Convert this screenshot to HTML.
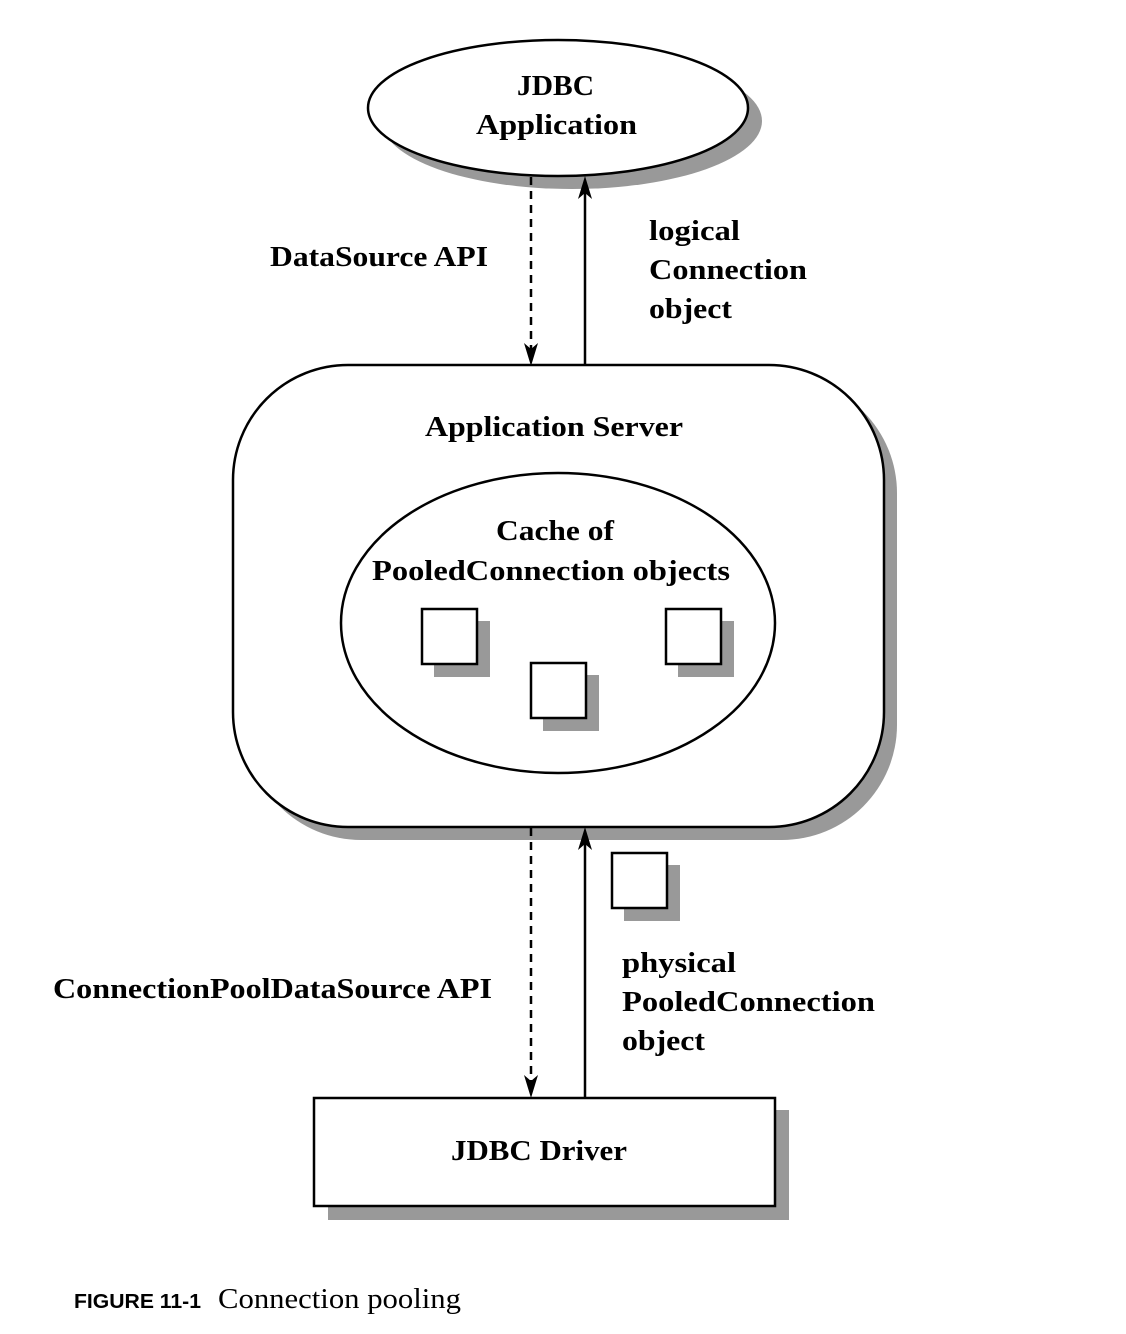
<!DOCTYPE html>
<html><head><meta charset="utf-8"><style>
html,body{margin:0;padding:0;background:#fff;}
svg{display:block;}
.t{font-family:"Liberation Serif",serif;font-weight:bold;font-size:29px;fill:#000;}
</style></head><body>
<svg width="1126" height="1334" viewBox="0 0 1126 1334" xmlns="http://www.w3.org/2000/svg">
<ellipse cx="572" cy="121" rx="190" ry="68" fill="#999"/>
<ellipse cx="558" cy="108" rx="190" ry="68" fill="#fff" stroke="#000" stroke-width="2.5"/>
<text class="t" x="517" y="95" textLength="77" lengthAdjust="spacingAndGlyphs">JDBC</text>
<text class="t" x="476" y="134" textLength="161" lengthAdjust="spacingAndGlyphs">Application</text>
<line x1="531" y1="177" x2="531" y2="350" stroke="#000" stroke-width="2.5" stroke-dasharray="8,6"/>
<path d="M524,343 L531,366 L538,343 L531,349 Z" fill="#000"/>
<line x1="585" y1="365" x2="585" y2="192" stroke="#000" stroke-width="2.5"/>
<path d="M578,199 L585,176 L592,199 L585,193 Z" fill="#000"/>
<text class="t" x="270" y="266" textLength="218" lengthAdjust="spacingAndGlyphs">DataSource API</text>
<text class="t" x="649" y="240" textLength="91" lengthAdjust="spacingAndGlyphs">logical</text>
<text class="t" x="649" y="279" textLength="158" lengthAdjust="spacingAndGlyphs">Connection</text>
<text class="t" x="649" y="318" textLength="83" lengthAdjust="spacingAndGlyphs">object</text>
<rect x="246" y="378" width="651" height="462" rx="115" fill="#999"/>
<rect x="233" y="365" width="651" height="462" rx="115" fill="#fff" stroke="#000" stroke-width="2.5"/>
<text class="t" x="425" y="436" textLength="258" lengthAdjust="spacingAndGlyphs">Application Server</text>
<ellipse cx="558" cy="623" rx="217" ry="150" fill="#fff" stroke="#000" stroke-width="2.5"/>
<text class="t" x="496" y="540" textLength="118" lengthAdjust="spacingAndGlyphs">Cache of</text>
<text class="t" x="372" y="580" textLength="358" lengthAdjust="spacingAndGlyphs">PooledConnection objects</text>
<rect x="434" y="621" width="56" height="56" fill="#999"/>
<rect x="422" y="609" width="55" height="55" fill="#fff" stroke="#000" stroke-width="2.5"/>
<rect x="678" y="621" width="56" height="56" fill="#999"/>
<rect x="666" y="609" width="55" height="55" fill="#fff" stroke="#000" stroke-width="2.5"/>
<rect x="543" y="675" width="56" height="56" fill="#999"/>
<rect x="531" y="663" width="55" height="55" fill="#fff" stroke="#000" stroke-width="2.5"/>
<line x1="531" y1="828" x2="531" y2="1082" stroke="#000" stroke-width="2.5" stroke-dasharray="8,6"/>
<path d="M524,1075 L531,1098 L538,1075 L531,1081 Z" fill="#000"/>
<line x1="585" y1="1097" x2="585" y2="843" stroke="#000" stroke-width="2.5"/>
<path d="M578,850 L585,827 L592,850 L585,844 Z" fill="#000"/>
<rect x="624" y="865" width="56" height="56" fill="#999"/>
<rect x="612" y="853" width="55" height="55" fill="#fff" stroke="#000" stroke-width="2.5"/>
<text class="t" x="622" y="972" textLength="114" lengthAdjust="spacingAndGlyphs">physical</text>
<text class="t" x="622" y="1011" textLength="253" lengthAdjust="spacingAndGlyphs">PooledConnection</text>
<text class="t" x="622" y="1050" textLength="83" lengthAdjust="spacingAndGlyphs">object</text>
<text class="t" x="53" y="998" textLength="439" lengthAdjust="spacingAndGlyphs">ConnectionPoolDataSource API</text>
<rect x="328" y="1110" width="461" height="110" fill="#999"/>
<rect x="314" y="1098" width="461" height="108" fill="#fff" stroke="#000" stroke-width="2.5"/>
<text class="t" x="451" y="1160" textLength="176" lengthAdjust="spacingAndGlyphs">JDBC Driver</text>
<text x="74" y="1308" textLength="127" lengthAdjust="spacingAndGlyphs" style="font-family:'Liberation Sans',sans-serif;font-weight:bold;font-size:20px;">FIGURE 11-1</text>
<text x="218" y="1308" textLength="243" lengthAdjust="spacingAndGlyphs" style="font-family:'Liberation Serif',serif;font-size:28px;">Connection pooling</text>
</svg>
</body></html>
